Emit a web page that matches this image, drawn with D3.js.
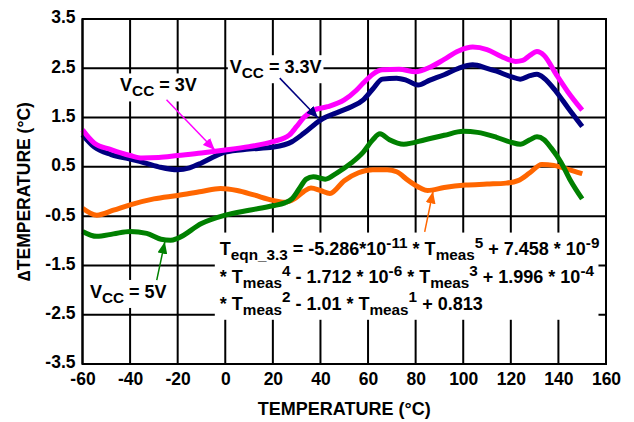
<!DOCTYPE html>
<html><head><meta charset="utf-8">
<script src="https://cdn.jsdelivr.net/npm/d3@7"></script>
<style>
html,body{margin:0;padding:0;background:#fff;}
svg{display:block;font-family:Arial,"Liberation Sans",Helvetica,sans-serif;font-weight:bold;}
text{white-space:pre;}
</style></head><body>
<svg id="c" width="634" height="422"></svg>
<script>
// ---- axis ticks ----
const xTicks = [-60,-40,-20,0,20,40,60,80,100,120,140,160];
const yTicks = [-3.5,-2.5,-1.5,-0.5,0.5,1.5,2.5,3.5];

// ---- series: VCC = 3V (magenta) ----
const temp3V = [-60,-55,-48,-40,-35,-28,-20,-10,0,10,20,27,30,33,37,43,50,55,58,62,66,73,80,86,92,98,104,110,116,122,125,128,131,134,139,144,150];
const dt3V   = [1.25,0.98,0.85,0.73,0.68,0.69,0.73,0.78,0.84,0.91,1.01,1.15,1.32,1.50,1.65,1.72,1.86,2.05,2.20,2.38,2.47,2.48,2.43,2.52,2.68,2.85,2.93,2.88,2.74,2.64,2.66,2.76,2.84,2.76,2.38,2.02,1.65];

// ---- series: VCC = 3.3V (navy) ----
const temp33V = [-60,-55,-48,-40,-36,-28,-20,-15,-10,-5,0,10,20,28,33,40,48,53,58,62,66,72,76,81,86,92,98,104,110,114,120,124,128,131,134,139,144,150];
const dt33V   = [1.15,0.90,0.75,0.66,0.61,0.50,0.44,0.48,0.58,0.70,0.80,0.86,0.90,1.01,1.18,1.45,1.62,1.72,1.86,2.08,2.28,2.30,2.26,2.16,2.26,2.37,2.50,2.57,2.50,2.44,2.33,2.28,2.35,2.38,2.30,2.03,1.70,1.32];

// ---- series: VCC = 5V (green) ----
const temp5V = [-60,-54,-47,-40,-33,-27,-23,-20,-10,0,10,20,25,28,31,34,37,42,47,53,58,62,65,69,75,84,92,100,106,114,120,124,128,131,134,137,141,145,150];
const dt5V   = [-0.81,-0.91,-0.86,-0.81,-0.85,-0.97,-0.99,-0.95,-0.65,-0.48,-0.38,-0.29,-0.23,-0.15,0.05,0.25,0.30,0.25,0.38,0.58,0.80,1.05,1.17,1.05,0.96,1.05,1.14,1.22,1.20,1.10,1.00,0.96,1.05,1.11,1.05,0.88,0.60,0.23,-0.15];

// ---- series: equation fit (orange) ----
const tempEqn = [-60,-54,-47,-40,-30,-20,-10,-2,5,12,20,25,29,33,36,40,44,50,56,62,68,72,77,82,85,92,101,110,118,123,128,133,138,144,150];
const dtEqn   = [-0.34,-0.48,-0.38,-0.27,-0.15,-0.08,0.00,0.06,0.02,-0.07,-0.18,-0.22,-0.15,0.00,0.07,0.02,-0.04,0.22,0.38,0.44,0.44,0.40,0.22,0.07,0.02,0.08,0.13,0.15,0.17,0.22,0.38,0.55,0.53,0.45,0.36];

const seriesColors = ["#ff00ff","#000080","#008000","#ff6600"];

// ---- annotations (data coordinates) ----
const arrows = [
  {from:[-24.7,1.86], to:[-4.4,0.84], c:0},
  {from:[22.9,2.30], to:[39.0,1.49], c:1},
  {from:[-28.8,-1.80], to:[-25.4,-1.02], c:2},
  {from:[83.8,-0.82], to:[87.3,0.0], c:3}
];
const vccLabels = [
  {at:[-44.2,2.03], v:" = 3V"},
  {at:[1.9,2.40], v:" = 3.3V"},
  {at:[-56.9,-2.16], v:" = 5V"}
];
const eqnAt = [-2.3, [-1.29,-1.86,-2.40]];
const eqnLines = [
  [["T"],["eqn_3.3","sub"],[" = -5.286*10"],["-11","sup"],[" * T"],["meas","sub"],["5","sup"],[" + 7.458 * 10"],["-9","sup"]],
  [["* T"],["meas","sub"],["4","sup"],[" - 1.712 * 10"],["-6","sup"],[" * T"],["meas","sub"],["3","sup"],[" + 1.996 * 10"],["-4","sup"]],
  [["* T"],["meas","sub"],["2","sup"],[" - 1.01 * T"],["meas","sub"],["1","sup"],[" + 0.813"]]
];

const svg = d3.select("#c");
const x = d3.scaleLinear().domain([-60,160]).range([82.5,606]);
const y = d3.scaleLinear().domain([-3.5,3.5]).range([364,19]);
const hy = f => (v => f(v).replace("\u2212","-"));

// grid
const grid = svg.append("g");
grid.selectAll("line.v").data(xTicks).join("line")
  .attr("x1",d=>x(d)).attr("x2",d=>x(d)).attr("y1",y(-3.5)).attr("y2",y(3.5))
  .attr("stroke","#000").attr("stroke-width",2);
grid.selectAll("line.h").data(yTicks).join("line")
  .attr("y1",d=>y(d)).attr("y2",d=>y(d)).attr("x1",x(-60)).attr("x2",x(160))
  .attr("stroke","#000").attr("stroke-width",2);

// axes labels
const xa = svg.append("g").attr("transform",`translate(0,${y(-3.5)})`)
  .call(d3.axisBottom(x).tickValues(xTicks).tickSize(0).tickPadding(9).tickFormat(hy(d3.format("d"))));
xa.select(".domain").remove();
xa.selectAll("text").attr("font-size",17.5).attr("font-weight","bold").attr("fill","#000").attr("font-family","Arial, 'Liberation Sans', sans-serif");
const ya = svg.append("g").attr("transform",`translate(${x(-60)},0)`)
  .call(d3.axisLeft(y).tickValues(yTicks).tickSize(0).tickPadding(7).tickFormat(hy(d3.format(".1f"))));
ya.select(".domain").remove();
ya.selectAll("text").attr("font-size",17.5).attr("font-weight","bold").attr("fill","#000").attr("font-family","Arial, 'Liberation Sans', sans-serif").attr("dy","0.22em");

// label helpers
function rich(g, px, py, segs, size, small, subOff, supOff){
  const t = g.append("text").attr("x",px).attr("y",py).attr("font-size",size).attr("fill","#000");
  let cur = 0;
  segs.forEach(s=>{
    const kind = s[1];
    const off = kind==="sub" ? subOff : kind==="sup" ? supOff : 0;
    t.append("tspan").attr("dy", off-cur).attr("font-size", kind ? small : size).text(s[0]);
    cur = off;
  });
  return t;
}
function boxBehind(g, t, pad){
  const b = t.node().getBBox();
  g.insert("rect", () => t.node())
    .attr("x",b.x-pad).attr("y",b.y-pad).attr("width",b.width+2*pad).attr("height",b.height+2*pad)
    .attr("fill","#fff");
}

// equation box
const eg = svg.append("g");
const eqTexts = eqnLines.map((segs,i)=> rich(eg, x(eqnAt[0]), y(eqnAt[1][i]), segs, 18, 15.3, 5, -7.5));
{
  let bx0=1e9,by0=1e9,bx1=-1e9,by1=-1e9;
  eqTexts.forEach(t=>{const b=t.node().getBBox(); bx0=Math.min(bx0,b.x); by0=Math.min(by0,b.y); bx1=Math.max(bx1,b.x+b.width); by1=Math.max(by1,b.y+b.height);});
  eg.insert("rect",":first-child").attr("x",bx0-5).attr("y",by0-1).attr("width",bx1-bx0+4).attr("height",by1-by0+3).attr("fill","#fff");
}

// series lines
const line = d3.line().x(d=>x(d[0])).y(d=>y(d[1])).curve(d3.curveMonotoneX);
const series = [[temp3V,dt3V],[temp33V,dt33V],[temp5V,dt5V],[tempEqn,dtEqn]];
// draw order: orange, green, navy, magenta
[3,2,1,0].forEach(i=>{
  const pts = d3.zip(series[i][0], series[i][1]);
  svg.append("path").datum(pts).attr("d",line).attr("fill","none")
    .attr("stroke",seriesColors[i]).attr("stroke-width",5)
    .attr("stroke-linejoin","round").attr("stroke-linecap","butt");
});

// border
svg.append("rect").attr("x",x(-60)).attr("y",y(3.5)).attr("width",x(160)-x(-60)).attr("height",y(-3.5)-y(3.5))
  .attr("fill","none").attr("stroke","#000").attr("stroke-width",2);

// VCC labels
const lg = svg.append("g");
vccLabels.forEach(l=>{
  const g = lg.append("g");
  const t = rich(g, x(l.at[0]), y(l.at[1]), [["V"],["CC","sub"],[l.v]], 18, 15.3, 5, -7);
  boxBehind(g, t, 2);
});

// arrows
const defs = svg.append("defs");
seriesColors.forEach((c,i)=>{
  defs.append("marker").attr("id","ah"+i).attr("viewBox","0 0 12 10").attr("refX",12).attr("refY",5)
    .attr("markerWidth",12).attr("markerHeight",10).attr("markerUnits","userSpaceOnUse").attr("orient","auto")
    .append("path").attr("d","M0,0L12,5L0,10Z").attr("fill",c);
});
svg.selectAll("line.arrow").data(arrows).join("line").attr("class","arrow")
  .attr("x1",d=>x(d.from[0])).attr("y1",d=>y(d.from[1]))
  .attr("x2",d=>x(d.to[0])).attr("y2",d=>y(d.to[1]))
  .attr("stroke",d=>seriesColors[d.c]).attr("stroke-width",1.5)
  .attr("marker-end",d=>`url(#ah${d.c})`);

// axis titles
svg.append("text").attr("x",(x(-60)+x(160))/2).attr("y",415).attr("text-anchor","middle")
  .attr("font-size",18).attr("fill","#000").text("TEMPERATURE (°C)");
svg.append("text").attr("transform",`translate(30,${(y(3.5)+y(-3.5))/2}) rotate(-90)`).attr("text-anchor","middle")
  .attr("font-size",17.5).attr("fill","#000").text("∆TEMPERATURE (°C)");
</script>
</body></html>
